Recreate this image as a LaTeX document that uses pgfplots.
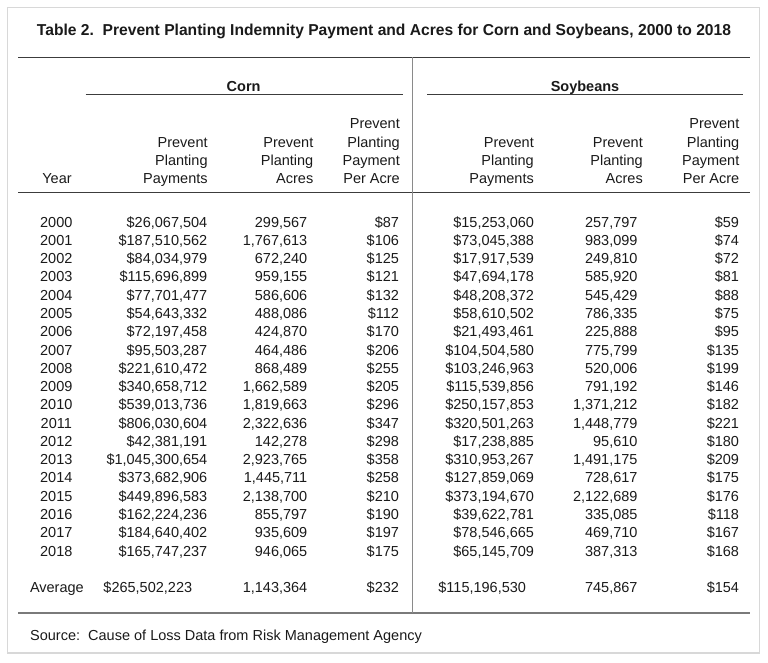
\documentclass[border=0pt]{standalone}
\usepackage{pgfplots}
\usepackage{pgfplotstable}
\usepackage{graphicx}
\usepackage{fontspec}
\setmainfont{Liberation Sans}
\pgfplotsset{compat=1.18}
\definecolor{txt}{HTML}{1A1A1A}
\definecolor{rule}{HTML}{3C3C3C}
\definecolor{rulelow}{HTML}{7A7A7A}
\definecolor{frame}{HTML}{D8D8D8}
\definecolor{vsep}{HTML}{8A8A8A}
\newcommand{\bodyfont}{\fontsize{14.5}{17}\selectfont}

\pgfplotstableread{
y year cp ca cpa sp sa spa
227.0 2000 \$26,067,504 299,567 \$87 \$15,253,060 257,797 \$59
245.3 2001 \$187,510,562 1,767,613 \$106 \$73,045,388 983,099 \$74
263.6 2002 \$84,034,979 672,240 \$125 \$17,917,539 249,810 \$72
281.8 2003 \$115,696,899 959,155 \$121 \$47,694,178 585,920 \$81
300.1 2004 \$77,701,477 586,606 \$132 \$48,208,372 545,429 \$88
318.4 2005 \$54,643,332 488,086 \$112 \$58,610,502 786,335 \$75
336.7 2006 \$72,197,458 424,870 \$170 \$21,493,461 225,888 \$95
355.0 2007 \$95,503,287 464,486 \$206 \$104,504,580 775,799 \$135
373.2 2008 \$221,610,472 868,489 \$255 \$103,246,963 520,006 \$199
391.5 2009 \$340,658,712 1,662,589 \$205 \$115,539,856 791,192 \$146
409.8 2010 \$539,013,736 1,819,663 \$296 \$250,157,853 1,371,212 \$182
428.1 2011 \$806,030,604 2,322,636 \$347 \$320,501,263 1,448,779 \$221
446.4 2012 \$42,381,191 142,278 \$298 \$17,238,885 95,610 \$180
464.6 2013 \$1,045,300,654 2,923,765 \$358 \$310,953,267 1,491,175 \$209
482.9 2014 \$373,682,906 1,445,711 \$258 \$127,859,069 728,617 \$175
501.2 2015 \$449,896,583 2,138,700 \$210 \$373,194,670 2,122,689 \$176
519.5 2016 \$162,224,236 855,797 \$190 \$39,622,781 335,085 \$118
537.8 2017 \$184,640,402 935,609 \$197 \$78,546,665 469,710 \$167
556.0 2018 \$165,747,237 946,065 \$175 \$65,145,709 387,313 \$168
}\tabledata

\pgfplotstableread{
y label cp ca cpa sp sa spa
592.6 Average \$265,502,223 1,143,364 \$232 \$115,196,530 745,867 \$154
}\avgdata

\pgfplotsset{
  colbase/.style={only marks, mark=none, nodes near coords,
    point meta=explicit symbolic,
    every node near coord/.append style={font=\bodyfont, text=txt, inner sep=0pt, outer sep=0pt}},
  colR/.style={colbase, nodes near coords align={anchor=base east},
    every node near coord/.append style={anchor=base east}},
  colC/.style={colbase, nodes near coords align={anchor=base},
    every node near coord/.append style={anchor=base}},
  colL/.style={colbase, nodes near coords align={anchor=base west},
    every node near coord/.append style={anchor=base west}},
}

\newcommand{\hdr}[3]{\node[anchor=base east, inner sep=0pt, font=\bodyfont, text=txt] at (axis cs:#1,#2) {#3};}

\begin{document}
\begin{tikzpicture}
\begin{axis}[width=768pt, height=662pt, scale only axis,
  xmin=0, xmax=768, ymin=0, ymax=662, y dir=reverse,
  hide axis, clip=false]

% full canvas for the bounding box
\path (axis cs:0,0) rectangle (axis cs:768,662);
% frame
\draw[frame, line width=1.3pt] (axis cs:7.5,7.5) rectangle (axis cs:759.5,653);
% title
\node[anchor=base, inner sep=0pt, text=txt] at (axis cs:384,35.6)
  {\resizebox{694pt}{\height}{\fontsize{15.8}{18}\selectfont\bfseries Table 2.\ \ Prevent Planting Indemnity Payment and Acres for Corn and Soybeans, 2000 to 2018}};
% rules
\draw[rule, line width=1.5pt] (axis cs:18,57.3) -- (axis cs:750,57.3);
\draw[rule, line width=1.5pt] (axis cs:85.5,94.7) -- (axis cs:403,94.7);
\draw[rule, line width=1.5pt] (axis cs:427,94.7) -- (axis cs:742.5,94.7);
\draw[rule, line width=1.5pt] (axis cs:18,192.7) -- (axis cs:750,192.7);
\draw[rulelow, line width=1.8pt] (axis cs:18,613.3) -- (axis cs:750,613.3);
\draw[vsep, line width=0.8pt] (axis cs:412,57.3) -- (axis cs:412,613.3);
% group headers
\node[anchor=base, inner sep=0pt, text=txt, font=\bodyfont\bfseries] at (axis cs:243.6,91.5) {Corn};
\node[anchor=base, inner sep=0pt, text=txt, font=\bodyfont\bfseries] at (axis cs:585,91.5) {Soybeans};
% column headers
\node[anchor=base, inner sep=0pt, font=\bodyfont, text=txt] at (axis cs:57,183.6) {Year};
\hdr{207.8}{147}{Prevent}\hdr{207.8}{165.3}{Planting}\hdr{207.8}{183.6}{Payments}
\hdr{313.5}{147}{Prevent}\hdr{313.5}{165.3}{Planting}\hdr{313.5}{183.6}{Acres}
\hdr{400}{128.6}{Prevent}\hdr{400}{147}{Planting}\hdr{400}{165.3}{Payment}\hdr{400}{183.6}{Per Acre}
\hdr{534}{147}{Prevent}\hdr{534}{165.3}{Planting}\hdr{534}{183.6}{Payments}
\hdr{643}{147}{Prevent}\hdr{643}{165.3}{Planting}\hdr{643}{183.6}{Acres}
\hdr{739.5}{128.6}{Prevent}\hdr{739.5}{147}{Planting}\hdr{739.5}{165.3}{Payment}\hdr{739.5}{183.6}{Per Acre}

% data columns
\addplot[colC] table[x expr=56.3, y=y, meta=year] {\tabledata};
\addplot[colR] table[x expr=207.3, y=y, meta=cp] {\tabledata};
\addplot[colR] table[x expr=307.3, y=y, meta=ca] {\tabledata};
\addplot[colR] table[x expr=399, y=y, meta=cpa] {\tabledata};
\addplot[colR] table[x expr=534, y=y, meta=sp] {\tabledata};
\addplot[colR] table[x expr=637.5, y=y, meta=sa] {\tabledata};
\addplot[colR] table[x expr=739, y=y, meta=spa] {\tabledata};
% average row
\addplot[colL] table[x expr=30, y=y, meta=label] {\avgdata};
\addplot[colC] table[x expr=147.8, y=y, meta=cp] {\avgdata};
\addplot[colR] table[x expr=307.3, y=y, meta=ca] {\avgdata};
\addplot[colR] table[x expr=399, y=y, meta=cpa] {\avgdata};
\addplot[colC] table[x expr=482.2, y=y, meta=sp] {\avgdata};
\addplot[colR] table[x expr=637.5, y=y, meta=sa] {\avgdata};
\addplot[colR] table[x expr=739, y=y, meta=spa] {\avgdata};

% source
\node[anchor=base west, inner sep=0pt, font=\bodyfont, text=txt] at (axis cs:30,640.5) {Source:\ \ Cause of Loss Data from Risk Management Agency};
\end{axis}
\end{tikzpicture}
\end{document}
